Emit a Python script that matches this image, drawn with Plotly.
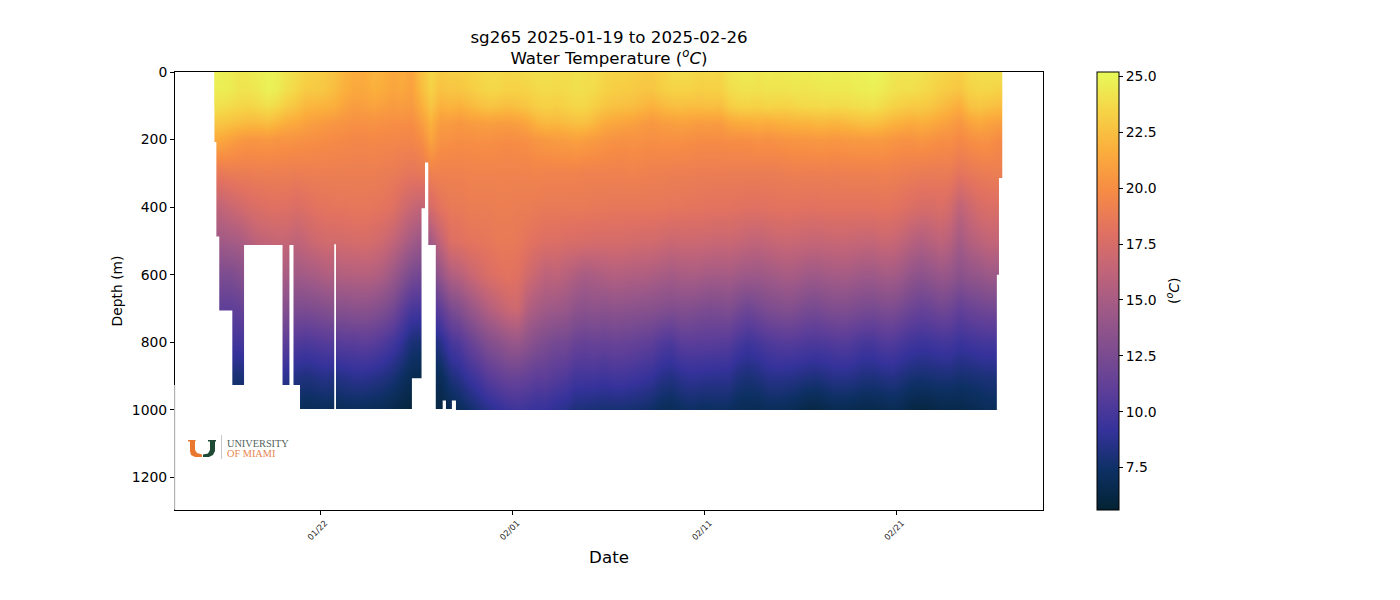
import pandas as pd
import plotly.graph_objects as go

TITLE = "sg265 2025-01-19 to 2025-02-26<br>Water Temperature (<i><sup>o</sup>C</i>)"
X_TICKS = ["2025-01-22", "2025-02-01", "2025-02-11", "2025-02-21"]
X_RANGE = ["2025-01-14 11:00", "2025-02-28 14:24"]
Y_TICKS = [0, 200, 400, 600, 800, 1000, 1200]
Y_BOTTOM = 1296

depths = [0, 50, 100, 150, 200, 300, 400, 500, 600, 700, 800, 900, 1000]

# days counted from 2024-12-31
profile_days = [16.5, 17.0, 17.5, 18.0, 18.5, 19.0, 19.5, 20.0, 20.5, 21.0, 21.5, 22.0, 22.5, 23.0,
                23.5, 24.0, 24.5, 25.0, 25.5, 26.0, 26.5, 27.0, 27.5, 28.0, 28.5, 29.0, 29.5, 30.0,
                30.5, 31.0, 31.5, 32.0, 32.5, 33.0, 33.5, 34.0, 34.5, 35.0, 35.5, 36.0, 36.5, 37.0,
                37.5, 38.0, 38.5, 39.0, 39.5, 40.0, 40.5, 41.0, 41.5, 42.0, 42.5, 43.0, 43.5, 44.0,
                44.5, 45.0, 45.5, 46.0, 46.5, 47.0, 47.5, 48.0, 48.5, 49.0, 49.5, 50.0, 50.5, 51.0,
                51.5, 52.0, 52.5, 53.0, 53.5, 54.0, 54.5, 55.0, 55.5, 56.0, 56.5, 57.0, 57.5]

# one row per profile, one value per depth
temps = [
    [24.8, 24.6, 24.0, 22.8, 21.4, 18.6, 16.3, 14.6, 12.6, 11.0, 9.7, 8.0, 7.0],
    [24.6, 24.6, 23.8, 22.6, 21.0, 18.8, 16.7, 14.8, 12.6, 11.0, 9.8, 8.0, 7.0],
    [24.3, 24.2, 23.6, 22.4, 20.6, 18.9, 17.1, 15.0, 13.0, 11.2, 9.8, 7.9, 7.0],
    [24.4, 24.2, 23.5, 22.2, 20.4, 18.9, 17.5, 15.6, 13.8, 12.0, 10.2, 8.4, 7.2],
    [24.6, 24.4, 23.7, 22.2, 20.4, 19.0, 17.7, 16.2, 14.6, 12.6, 10.5, 8.6, 7.2],
    [24.9, 24.8, 24.0, 22.4, 20.5, 19.0, 17.9, 16.4, 15.0, 13.0, 11.0, 9.0, 7.4],
    [24.7, 24.6, 23.7, 22.0, 20.3, 19.0, 18.0, 16.6, 15.2, 13.2, 11.0, 9.0, 7.4],
    [24.2, 24.0, 23.1, 21.6, 20.3, 19.0, 17.9, 16.5, 15.0, 13.0, 10.9, 8.8, 7.3],
    [23.8, 23.6, 22.7, 21.4, 20.2, 18.9, 17.7, 16.2, 14.6, 12.6, 10.4, 8.4, 7.0],
    [23.4, 23.0, 22.1, 21.0, 20.1, 19.0, 17.9, 16.6, 14.8, 12.6, 10.2, 8.2, 6.9],
    [23.2, 23.0, 22.0, 20.8, 20.0, 19.0, 18.2, 17.0, 15.0, 12.8, 10.4, 8.4, 6.9],
    [23.0, 22.8, 21.9, 20.6, 19.9, 19.0, 18.3, 17.2, 15.4, 13.0, 10.6, 8.6, 7.0],
    [22.6, 22.4, 21.7, 20.4, 19.8, 19.0, 18.4, 17.2, 15.4, 13.2, 10.6, 8.4, 6.9],
    [22.0, 21.8, 21.1, 20.3, 19.7, 19.0, 18.4, 17.3, 15.6, 13.2, 10.8, 8.6, 7.0],
    [21.6, 21.4, 20.8, 20.1, 19.6, 19.0, 18.5, 17.4, 15.6, 13.4, 10.8, 8.8, 7.0],
    [21.6, 21.4, 20.9, 20.1, 19.6, 19.0, 18.5, 17.5, 15.7, 13.4, 11.0, 8.8, 7.0],
    [22.0, 21.8, 21.1, 20.2, 19.7, 19.0, 18.4, 17.3, 15.6, 13.2, 10.8, 8.6, 6.9],
    [21.8, 21.6, 20.9, 20.1, 19.6, 18.9, 18.3, 17.0, 15.2, 12.8, 10.4, 8.4, 6.8],
    [21.4, 21.2, 20.7, 20.0, 19.6, 18.8, 18.0, 16.4, 14.4, 12.2, 9.8, 8.0, 6.5],
    [21.6, 21.4, 20.8, 20.0, 19.5, 18.6, 17.3, 15.6, 13.4, 11.0, 9.0, 7.4, 6.2],
    [21.2, 21.0, 20.6, 19.9, 19.5, 18.4, 16.7, 14.8, 12.4, 10.0, 8.0, 6.8, 6.0],
    [22.6, 22.4, 21.7, 20.8, 19.9, 18.6, 16.3, 14.2, 12.0, 9.8, 7.8, 6.6, 6.0],
    [23.6, 23.4, 22.8, 21.9, 21.2, 19.2, 17.5, 14.8, 12.6, 10.0, 8.0, 6.9, 6.2],
    [23.0, 22.6, 21.8, 20.7, 20.2, 19.2, 18.3, 16.4, 14.0, 11.0, 8.6, 7.0, 6.2],
    [23.2, 22.8, 22.0, 20.7, 20.1, 19.2, 18.7, 17.8, 15.4, 12.4, 9.9, 8.1, 6.7],
    [23.2, 22.8, 21.8, 20.5, 20.0, 19.2, 18.7, 18.0, 15.8, 13.0, 10.4, 8.6, 7.0],
    [23.4, 23.1, 22.2, 20.7, 20.0, 19.3, 18.9, 18.3, 16.6, 14.0, 11.4, 9.4, 7.6],
    [23.6, 23.4, 22.5, 20.8, 20.1, 19.3, 18.9, 18.4, 17.2, 14.8, 12.2, 10.0, 8.1],
    [23.8, 23.6, 22.7, 20.9, 20.1, 19.3, 18.9, 18.5, 17.7, 15.6, 13.0, 10.8, 8.6],
    [23.7, 23.6, 22.6, 20.8, 20.0, 19.3, 19.0, 18.7, 18.0, 16.2, 13.4, 11.2, 9.0],
    [23.6, 23.4, 22.4, 20.8, 19.9, 19.3, 19.0, 18.7, 18.2, 16.8, 14.0, 11.6, 9.4],
    [23.7, 23.4, 22.6, 20.9, 20.0, 19.3, 18.9, 18.6, 18.0, 17.0, 14.2, 11.6, 9.6],
    [23.8, 23.5, 22.8, 21.3, 20.1, 19.3, 18.9, 18.3, 17.2, 15.6, 13.6, 11.4, 9.4],
    [24.0, 23.7, 23.2, 21.9, 20.4, 19.4, 18.8, 18.0, 16.6, 15.0, 13.0, 11.0, 9.2],
    [24.0, 23.8, 23.3, 22.2, 20.6, 19.3, 18.7, 17.8, 16.0, 14.6, 12.6, 11.0, 9.2],
    [23.9, 23.7, 23.2, 22.1, 20.7, 19.3, 18.7, 17.8, 16.2, 14.4, 12.2, 10.6, 8.8],
    [23.9, 23.8, 23.4, 22.3, 20.8, 19.3, 18.7, 17.6, 15.8, 14.2, 12.2, 10.4, 8.6],
    [24.1, 24.0, 23.6, 22.5, 21.0, 19.3, 18.7, 17.6, 15.4, 13.6, 11.6, 9.8, 8.1],
    [24.0, 23.9, 23.6, 22.5, 20.8, 19.2, 18.7, 17.5, 15.0, 13.4, 11.4, 9.8, 8.0],
    [23.9, 23.8, 23.2, 22.1, 20.6, 19.2, 18.6, 17.4, 15.2, 13.6, 11.6, 9.8, 7.9],
    [23.6, 23.4, 22.8, 21.5, 20.4, 19.2, 18.6, 17.4, 15.4, 13.4, 11.4, 9.6, 7.8],
    [23.4, 23.2, 22.6, 21.3, 20.2, 19.2, 18.5, 17.4, 15.6, 13.6, 11.6, 9.8, 7.8],
    [23.4, 23.1, 22.5, 21.1, 20.1, 19.2, 18.5, 17.4, 15.5, 13.5, 11.5, 9.8, 7.8],
    [23.3, 23.0, 22.4, 21.0, 20.2, 19.3, 18.5, 17.3, 15.4, 13.4, 11.4, 9.6, 7.7],
    [23.1, 22.8, 22.1, 20.7, 20.1, 19.2, 18.5, 17.2, 15.4, 13.3, 11.2, 9.4, 7.6],
    [23.0, 22.8, 21.8, 20.5, 20.0, 19.1, 18.5, 17.2, 15.2, 13.2, 11.0, 9.2, 7.4],
    [23.4, 23.2, 22.2, 20.8, 20.1, 19.1, 18.5, 17.0, 15.0, 13.0, 10.4, 8.6, 7.0],
    [23.8, 23.4, 22.4, 20.9, 20.1, 19.0, 18.4, 16.8, 14.8, 12.8, 10.2, 8.4, 6.9],
    [23.9, 23.4, 22.5, 21.0, 20.1, 19.0, 18.4, 16.9, 15.0, 13.0, 10.8, 8.8, 7.2],
    [23.8, 23.4, 22.4, 20.9, 20.0, 19.0, 18.3, 16.9, 15.1, 12.9, 10.9, 9.0, 7.4],
    [23.6, 23.2, 22.4, 20.7, 19.9, 18.9, 18.3, 16.9, 15.0, 12.7, 10.8, 8.9, 7.2],
    [23.7, 23.3, 22.5, 20.8, 19.9, 18.9, 18.2, 16.8, 14.8, 12.5, 10.8, 8.8, 7.2],
    [23.6, 23.3, 22.4, 20.7, 19.9, 18.9, 18.2, 16.7, 14.8, 12.6, 10.7, 8.8, 7.3],
    [24.2, 23.9, 23.1, 21.3, 20.0, 18.9, 18.2, 16.8, 14.9, 12.8, 10.6, 8.8, 7.2],
    [24.4, 24.1, 23.4, 21.5, 20.0, 18.9, 18.1, 16.6, 14.6, 12.2, 10.0, 8.2, 6.9],
    [24.5, 24.2, 23.4, 21.5, 20.0, 18.9, 18.0, 16.4, 14.4, 11.8, 9.6, 8.0, 6.8],
    [24.3, 24.1, 23.3, 21.7, 20.2, 18.9, 18.0, 16.3, 14.4, 12.2, 9.9, 8.2, 6.8],
    [24.5, 24.2, 23.5, 21.5, 20.1, 18.9, 18.1, 16.5, 14.6, 12.6, 10.3, 8.6, 7.0],
    [24.4, 24.2, 23.4, 21.7, 20.2, 18.9, 18.2, 16.7, 14.8, 12.8, 10.5, 8.7, 7.0],
    [24.5, 24.2, 23.4, 21.8, 20.3, 19.0, 18.2, 16.8, 15.0, 13.0, 10.6, 8.6, 6.9],
    [24.6, 24.3, 23.6, 21.9, 20.4, 19.1, 18.2, 16.7, 14.9, 12.8, 10.5, 8.5, 6.7],
    [24.5, 24.2, 23.7, 21.9, 20.4, 19.0, 18.1, 16.6, 14.6, 12.4, 10.3, 8.3, 6.3],
    [24.6, 24.3, 23.7, 22.1, 20.5, 19.0, 18.1, 16.5, 14.5, 12.3, 10.2, 8.2, 6.2],
    [24.7, 24.4, 23.8, 22.1, 20.5, 19.1, 18.2, 16.6, 14.7, 12.6, 10.3, 8.4, 6.5],
    [24.6, 24.4, 23.7, 22.0, 20.4, 19.0, 18.2, 16.7, 14.8, 12.8, 10.5, 8.6, 6.7],
    [24.6, 24.4, 23.8, 22.1, 20.5, 19.1, 18.2, 16.7, 14.9, 12.8, 10.6, 8.6, 6.7],
    [24.7, 24.5, 23.9, 22.3, 20.6, 19.1, 18.2, 16.6, 14.7, 12.6, 10.3, 8.5, 6.6],
    [24.8, 24.6, 24.0, 22.5, 20.6, 19.1, 18.2, 16.5, 14.5, 12.4, 10.0, 8.2, 6.5],
    [25.0, 24.7, 24.1, 22.5, 20.6, 19.1, 18.2, 16.5, 14.5, 12.3, 10.0, 8.2, 6.5],
    [24.8, 24.5, 23.8, 22.3, 20.6, 19.2, 18.3, 16.8, 14.8, 12.6, 10.4, 8.4, 6.6],
    [24.3, 24.2, 23.4, 21.9, 20.4, 19.1, 18.2, 16.7, 14.8, 12.6, 10.4, 8.5, 6.8],
    [24.2, 24.0, 23.2, 21.7, 20.2, 19.0, 18.0, 16.3, 14.4, 12.2, 10.0, 8.2, 6.6],
    [24.2, 24.0, 23.0, 21.5, 20.2, 18.9, 17.7, 15.8, 13.8, 11.7, 9.7, 7.9, 6.2],
    [24.1, 23.8, 23.0, 21.7, 20.4, 18.8, 17.5, 15.5, 13.5, 11.4, 9.5, 7.8, 6.1],
    [23.8, 23.6, 22.8, 21.5, 20.2, 18.8, 17.5, 15.8, 13.8, 11.6, 9.6, 7.9, 6.2],
    [23.6, 23.2, 22.4, 21.1, 20.0, 18.8, 17.7, 16.2, 14.2, 12.0, 9.8, 8.0, 6.4],
    [23.4, 23.0, 22.0, 20.9, 20.0, 18.8, 17.3, 15.8, 14.0, 11.8, 9.8, 8.0, 6.4],
    [23.2, 22.8, 21.6, 20.4, 19.7, 18.3, 16.2, 14.8, 13.4, 11.2, 9.4, 7.8, 6.4],
    [23.8, 23.4, 22.6, 21.1, 20.0, 18.6, 16.9, 15.6, 13.8, 11.6, 9.6, 7.9, 6.6],
    [23.9, 23.6, 22.8, 21.4, 20.2, 18.8, 17.5, 16.0, 14.0, 11.8, 9.8, 8.0, 6.8],
    [23.9, 23.6, 22.6, 21.1, 20.2, 18.9, 17.7, 16.4, 14.4, 12.0, 9.9, 8.1, 7.0],
    [24.0, 23.4, 22.4, 20.9, 19.8, 19.0, 17.7, 16.4, 14.4, 12.0, 9.9, 8.1, 7.0],
]

# lower edge of the sampled water, held from each listed day to the next
edge_days = [14.4, 16.38, 16.50, 16.61, 16.76, 17.44, 18.05, 20.05, 20.41, 20.62, 20.96, 22.74, 22.83,
             26.78, 27.28, 27.46, 27.63, 28.02, 28.38, 28.55, 28.86, 29.07, 57.20, 57.31, 57.55, 57.67, 59.7]
edge_depths = [0, 107, 207, 487, 706, 926, 512, 926, 512, 926, 997, 510, 997,
               906, 403, 268, 512, 997, 972, 997, 972, 1000, 600, 314, 68, 0, 0]

thermal = ["rgb(3,35,51)", "rgb(13,48,100)", "rgb(53,50,155)", "rgb(93,62,153)", "rgb(126,77,143)",
           "rgb(158,89,135)", "rgb(193,100,121)", "rgb(225,113,97)", "rgb(246,139,69)",
           "rgb(251,173,60)", "rgb(246,211,70)", "rgb(231,250,90)"]

FONT = "DejaVu Sans"
start = pd.Timestamp("2024-12-31")
to_dates = lambda days: [start + pd.Timedelta(days=d) for d in days]
z = [list(r) for r in zip(*temps)]

fig = go.Figure()
fig.add_trace(go.Heatmap(
    x=to_dates(profile_days), y=depths, z=z, zmin=5.6, zmax=25.2, zsmooth="best", colorscale=thermal,
    colorbar=dict(x=1.0622, xanchor="left", xpad=0, y=0, yanchor="bottom", ypad=0, len=1, thickness=22,
                  outlinecolor="black", outlinewidth=1, ticks="outside", ticklen=4, tickwidth=1,
                  tickcolor="black", tick0=7.5, dtick=2.5, tickformat=".1f",
                  tickfont=dict(family=FONT, size=13.9, color="black")),
))
fig.add_trace(go.Scatter(x=to_dates(edge_days), y=[Y_BOTTOM] * len(edge_days), mode="lines",
                         line=dict(width=0), showlegend=False, hoverinfo="skip"))
fig.add_trace(go.Scatter(x=to_dates(edge_days), y=edge_depths, mode="lines", line=dict(width=0, shape="hv"),
                         fill="tonexty", fillcolor="white", showlegend=False, hoverinfo="skip"))

L, R, T, B = 175, 1043, 72, 510
px = lambda v: (v - L) / (R - L)
py = lambda v: (B - v) / (B - T)


def poly(points):
    return "M " + " L ".join(f"{px(a):.5f},{py(b):.5f}" for a, b in points) + " Z"


shapes = [
    dict(type="rect", xref="paper", yref="paper", x0=px(174.5), x1=px(300), y0=py(509.5), y1=py(385),
         fillcolor="white", line=dict(width=0), layer="above"),
    dict(type="line", xref="paper", yref="paper", x0=px(175), x1=px(175), y0=py(509.5), y1=py(385),
         line=dict(color="#e4e4e4", width=1), layer="above"),
    dict(type="path", xref="paper", yref="paper", fillcolor="#e9772e", line=dict(width=0), layer="above",
         path=poly([(188, 440), (196, 440), (195, 441.5), (195, 450), (197, 453), (202, 454.5), (202, 457),
                    (195, 457), (191, 455), (190, 451), (190, 441.5), (188, 441.5)])),
    dict(type="path", xref="paper", yref="paper", fillcolor="#1f4a36", line=dict(width=0), layer="above",
         path=poly([(208, 440), (216, 440), (216, 441.5), (215, 441.5), (215, 451), (213, 455), (209, 457),
                    (203, 457), (203, 454.5), (208, 453.5), (210, 450), (210, 441.5), (208, 441.5)])),
    dict(type="line", xref="paper", yref="paper", x0=px(221.5), x1=px(221.5), y0=py(459), y1=py(435),
         line=dict(color="#c8c8c8", width=1), layer="above"),
]

annotations = [
    dict(text="UNIVERSITY", x=px(224.5), y=py(443), xref="paper", yref="paper", xanchor="left", yanchor="middle",
         showarrow=False, font=dict(family="Liberation Serif", size=10.3, color="#53635d")),
    dict(text="OF MIAMI", x=px(224.5), y=py(453), xref="paper", yref="paper", xanchor="left", yanchor="middle",
         showarrow=False, font=dict(family="Liberation Serif", size=10.3, color="#e8864f")),
    dict(text="(<i><sup>o</sup>C</i>)", x=px(1173), y=py(291), xref="paper", yref="paper", xanchor="center",
         yanchor="middle", textangle=-90, showarrow=False, font=dict(family=FONT, size=13.9, color="black")),
]

fig.update_layout(
    width=1400, height=600, margin=dict(l=L, r=1400 - R, t=T, b=600 - B, pad=0),
    paper_bgcolor="white", plot_bgcolor="white", showlegend=False,
    font=dict(family=FONT, color="black"),
    title=dict(text=TITLE, x=px(609), xref="paper", xanchor="center", y=0.929, yanchor="top",
               font=dict(family=FONT, size=16.67, color="black")),
    shapes=shapes, annotations=annotations,
    xaxis=dict(type="date", range=X_RANGE, tickvals=X_TICKS, tickformat="%m/%d", tickangle=-45,
               ticklabelshift=5, tickfont=dict(family=FONT, size=8.3, color="#222"), ticks="outside", ticklen=4,
               tickwidth=1, tickcolor="black", showline=True, linecolor="black", linewidth=1, mirror=True,
               showgrid=False, zeroline=False,
               title=dict(text="Date", font=dict(family=FONT, size=16.67), standoff=10)),
    yaxis=dict(range=[Y_BOTTOM, 0], tickvals=Y_TICKS, tickfont=dict(family=FONT, size=13.9), ticks="outside",
               ticklen=4, tickwidth=1, tickcolor="black", showline=True, linecolor="black", linewidth=1,
               mirror=True, showgrid=False, zeroline=False,
               title=dict(text="Depth (m)", font=dict(family=FONT, size=13.9), standoff=5)),
)

fig.write_html("out.html", post_script="document.body.style.margin='0';", config={"displayModeBar": False})
